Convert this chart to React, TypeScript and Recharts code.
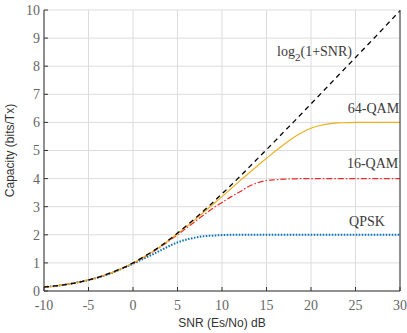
import React from 'react';
import { LineChart, Line, XAxis, YAxis, CartesianGrid, ReferenceDot } from 'recharts';

const snrDb = [-10, -9, -8, -7, -6, -5, -4, -3, -2, -1, 0, 1, 2, 3, 4, 5, 6, 7, 8, 9, 10, 11, 12, 13, 14, 15, 16, 17, 18, 19, 20, 21, 22, 23, 24, 25, 26, 27, 28, 29, 30];

const shannonCap = [0.14, 0.17, 0.21, 0.26, 0.32, 0.40, 0.48, 0.59, 0.71, 0.84, 1.0, 1.18, 1.37, 1.58, 1.81, 2.06, 2.32, 2.59, 2.87, 3.16, 3.46, 3.76, 4.07, 4.39, 4.71, 5.03, 5.35, 5.68, 6.0, 6.33, 6.66, 6.99, 7.32, 7.65, 7.98, 8.31, 8.64, 8.97, 9.3, 9.64, 9.97];
const qam64Cap = [0.14, 0.17, 0.21, 0.26, 0.32, 0.40, 0.48, 0.58, 0.70, 0.84, 0.99, 1.17, 1.36, 1.57, 1.80, 2.04, 2.29, 2.55, 2.82, 3.09, 3.36, 3.64, 3.92, 4.19, 4.46, 4.72, 4.98, 5.22, 5.45, 5.64, 5.79, 5.89, 5.95, 5.98, 5.99, 6.0, 6.0, 6.0, 6.0, 6.0, 6.0];
const qam16Cap = [0.14, 0.17, 0.21, 0.26, 0.32, 0.39, 0.48, 0.58, 0.70, 0.83, 0.98, 1.15, 1.34, 1.55, 1.77, 2.0, 2.24, 2.48, 2.72, 2.95, 3.15, 3.35, 3.53, 3.72, 3.85, 3.93, 3.96, 3.98, 3.99, 4.0, 4.0, 4.0, 4.0, 4.0, 4.0, 4.0, 4.0, 4.0, 4.0, 4.0, 4.0];
const qpskCap = [0.14, 0.17, 0.21, 0.26, 0.32, 0.39, 0.47, 0.57, 0.69, 0.83, 0.97, 1.12, 1.27, 1.43, 1.59, 1.73, 1.83, 1.90, 1.95, 1.97, 1.99, 2.0, 2.0, 2.0, 2.0, 2.0, 2.0, 2.0, 2.0, 2.0, 2.0, 2.0, 2.0, 2.0, 2.0, 2.0, 2.0, 2.0, 2.0, 2.0, 2.0];

const xTicks = [-10, -5, 0, 5, 10, 15, 20, 25, 30];
const yTicks = [0, 1, 2, 3, 4, 5, 6, 7, 8, 9, 10];

// curve labels, anchored at their right end / baseline in data units
const curveLabels = [
  { key: 'log', text: 'log', sub: '2', rest: '(1+SNR)', x: 24.6, y: 8.36 },
  { key: '64', text: '64-QAM', x: 29.9, y: 6.33 },
  { key: '16', text: '16-QAM', x: 29.8, y: 4.38 },
  { key: 'qpsk', text: 'QPSK', x: 28.3, y: 2.31 },
];

const chartData = snrDb.map((snr, i) => ({
  snr,
  shannon: shannonCap[i],
  qam64: qam64Cap[i],
  qam16: qam16Cap[i],
  qpsk: qpskCap[i],
}));

const serif = '"Liberation Serif", "Times New Roman", serif';
const sans = '"Liberation Sans", Arial, sans-serif';
const tickStyle = { fontFamily: serif, fontSize: 14, fill: '#666' };

const CurveLabel = ({ viewBox, item }: any) => {
  if (!viewBox) return null;
  return (
    <text x={viewBox.x} y={viewBox.y} textAnchor="end" fontFamily={serif} fontSize={14} fill="#3a3a3a">
      {item.text}
      {item.sub && <tspan fontSize={11} dy={5}>{item.sub}</tspan>}
      {item.rest && <tspan dy={-5}>{item.rest}</tspan>}
    </text>
  );
};

const App: React.FC = () => {
  return (
    <div style={{ position: 'fixed', left: 0, top: 0, background: '#fff' }}>
      <LineChart width={407} height={333} data={chartData} margin={{ top: 10, right: 0, left: 0, bottom: 0 }}>
        <CartesianGrid stroke="#dcdcdc" xAxisId="b" yAxisId="l" />
        <XAxis xAxisId="b" dataKey="snr" type="number" domain={[-10, 30]} ticks={xTicks} height={42}
          stroke="#333" tickSize={-4} tickMargin={13} tick={tickStyle}
          label={{ value: 'SNR (Es/No) dB', position: 'insideBottom', offset: 6, style: { fontFamily: sans, fontSize: 12, fill: '#333' } }} />
        <XAxis xAxisId="t" dataKey="snr" type="number" domain={[-10, 30]} ticks={xTicks} orientation="top" height={0}
          stroke="#333" tickSize={-4} tickFormatter={() => ''} />
        <YAxis yAxisId="l" type="number" domain={[0, 10]} ticks={yTicks} width={44}
          stroke="#333" tickSize={-4} tickMargin={8} tick={tickStyle}
          label={{ value: 'Capacity (bits/Tx)', angle: -90, position: 'insideLeft', offset: 10, style: { fontFamily: sans, fontSize: 12, fill: '#333', textAnchor: 'middle' } }} />
        <YAxis yAxisId="r" orientation="right" type="number" domain={[0, 10]} ticks={yTicks} width={7}
          stroke="#333" tickSize={-4} tickFormatter={() => ''} />
        <Line xAxisId="b" yAxisId="l" type="monotone" dataKey="qpsk" stroke="#0072bd" strokeWidth={2} strokeDasharray="1.5 1.5" dot={false} isAnimationActive={false} />
        <Line xAxisId="b" yAxisId="l" type="monotone" dataKey="qam16" stroke="#ee2a2a" strokeWidth={1.2} strokeDasharray="6 2 1.5 2" dot={false} isAnimationActive={false} />
        <Line xAxisId="b" yAxisId="l" type="monotone" dataKey="qam64" stroke="#edb120" strokeWidth={1.2} dot={false} isAnimationActive={false} />
        <Line xAxisId="b" yAxisId="l" type="monotone" dataKey="shannon" stroke="#000" strokeWidth={1.3} strokeDasharray="5 4" dot={false} isAnimationActive={false} />
        {curveLabels.map(item => (
          <ReferenceDot key={item.key} xAxisId="b" yAxisId="l" x={item.x} y={item.y} r={0} stroke="none" fill="none"
            label={<CurveLabel item={item} />} />
        ))}
      </LineChart>
    </div>
  );
};

export default App;
